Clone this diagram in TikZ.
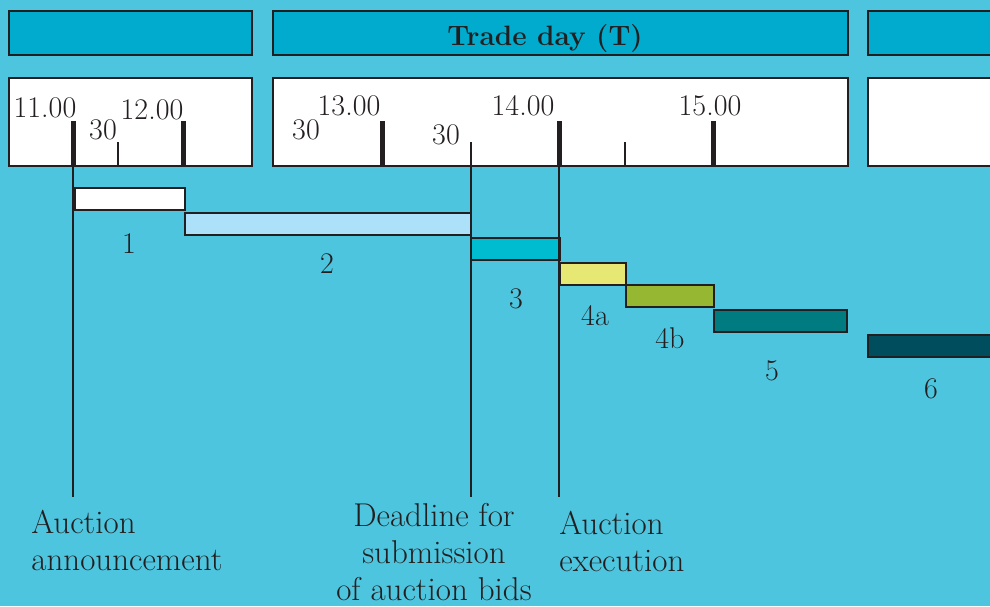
\documentclass[tikz,border=0pt]{standalone}
\usepackage{tikz}
\usetikzlibrary{positioning,calc}

\definecolor{skyback}{RGB}{78,197,222}
\definecolor{headcyan}{RGB}{0,171,205}
\definecolor{ink}{RGB}{35,31,32}
\definecolor{phasetwo}{RGB}{173,225,249}
\definecolor{phasethree}{RGB}{0,188,208}
\definecolor{phasefoura}{RGB}{230,232,115}
\definecolor{phasefourb}{RGB}{149,183,49}
\definecolor{phasefive}{RGB}{0,123,128}
\definecolor{phasesix}{RGB}{0,77,94}

\begin{document}
\begin{tikzpicture}[x=0.5pt, y=-0.5pt,
    band/.style={draw=ink, line width=0.75pt, fill=headcyan, minimum height=22pt, inner sep=0pt, anchor=north west},
    dial/.style={draw=ink, line width=0.75pt, fill=white, minimum height=44pt, inner sep=0pt, anchor=north west},
    bar/.style={draw=ink, line width=1pt, minimum height=11pt, inner sep=0pt, anchor=north west},
    hour/.style={font=\fontsize{15}{18}\selectfont, text=ink, inner sep=0pt, anchor=base},
    note/.style={font=\fontsize{16.5}{18.6}\selectfont, text=ink, inner sep=0pt},
    major/.style={draw=ink, line width=2.5pt},
    minor/.style={draw=ink, line width=1pt},
    guide/.style={draw=ink, line width=0.75pt}]

    \useasboundingbox (0,0) rectangle (990,606);
    \clip (0,0) rectangle (990,606);
    \fill[skyback] (0,0) rectangle (990,606);

    % day bands
    \node[band, minimum width=121.5pt] (prevday) at (8,10) {};
    \node[band, minimum width=287.5pt] (tradeday) at (272,10) {};
    \node[band, minimum width=150pt] (nextday) at (867,10) {};
    \node[font=\bfseries\fontsize{14}{16}\selectfont, text=ink, inner sep=0pt, anchor=base] (daytitle) at (545,45) {Trade day (T)};

    % clock strips
    \node[dial, minimum width=121.5pt] (clockA) at (8,77) {};
    \node[dial, minimum width=287.5pt] (clockB) at (272,77) {};
    \node[dial, minimum width=150pt] (clockC) at (867,77) {};

    \coordinate (h11) at (73,121);
    \coordinate (h12) at (183,121);
    \coordinate (h13) at (382,121);
    \coordinate (h14) at (559,121);
    \coordinate (h15) at (713,121);
    \coordinate (m1130) at (118,142);
    \coordinate (m1330) at (471,142);
    \coordinate (m1430) at (625,142);
    \coordinate (foot) at (0,497);

    \foreach \t/\s in {h11/clockA, h12/clockA, h13/clockB, h14/clockB, h15/clockB}
        \draw[major] (\t) -- (\t |- \s.south);
    \foreach \t/\s in {m1130/clockA, m1430/clockB}
        \draw[minor] (\t) -- (\t |- \s.south);

    \node[hour] (t11) at (45,117) {11.00};
    \node[hour] (t1130) at (103,139) {30};
    \node[hour] (t12) at (152,119) {12.00};
    \node[hour] (t1230) at (306,139) {30};
    \node[hour] (t13) at (349,115) {13.00};
    \node[hour] (t1330) at (446,144) {30};
    \node[hour] (t14) at (523,115) {14.00};
    \node[hour] (t15) at (710,115) {15.00};

    % phases
    \node[bar, fill=white, minimum width=55pt] (p1) at (74,187) {};
    \node[bar, fill=phasetwo, minimum width=143pt] (p2) at (184,212) {};
    \node[bar, fill=phasethree, minimum width=44.5pt] (p3) at (470,237) {};
    \node[bar, fill=phasefoura, minimum width=33pt] (p4a) at (559,262) {};
    \node[bar, fill=phasefourb, minimum width=44pt] (p4b) at (625,284) {};
    \node[bar, fill=phasefive, minimum width=66.5pt] (p5) at (713,309) {};
    \node[bar, fill=phasesix, minimum width=150pt] (p6) at (867,334) {};

    \node[hour] (n1) at (129,253) {1};
    \node[hour] (n2) at (327,273) {2};
    \node[hour] (n3) at (516,308) {3};
    \node[hour] (n4a) at (595,325) {4a};
    \node[hour] (n4b) at (670,348) {4b};
    \node[hour] (n5) at (772,380) {5};
    \node[hour] (n6) at (931,398) {6};

    % events
    \draw[guide] (h11 |- clockA.south) -- (h11 |- foot);
    \draw[guide] (m1330) -- (m1330 |- foot);
    \draw[guide] (h14 |- clockB.south) -- (h14 |- foot);

    \node[note, anchor=north west, align=left] (announce) at (31,510) {Auction\\announcement};
    \node[note, anchor=north, align=center] (deadline) at (434,503) {Deadline for\\submission\\of auction bids};
    \node[note, anchor=north west, align=left] (execute) at (559,511) {Auction\\execution};
\end{tikzpicture}
\end{document}
